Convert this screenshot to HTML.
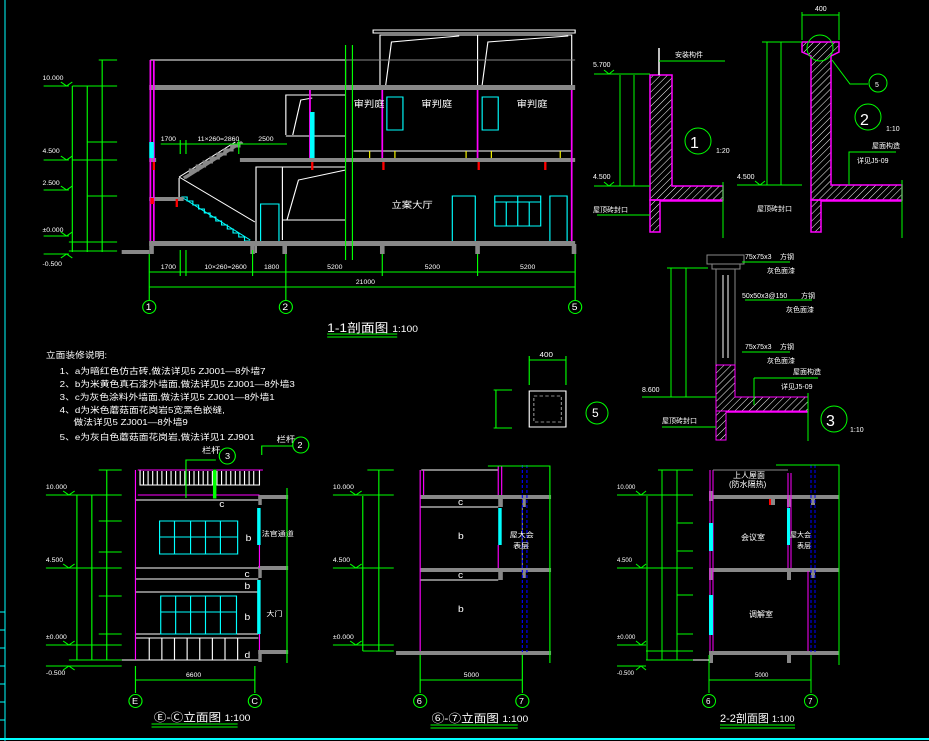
<!DOCTYPE html>
<html><head><meta charset="utf-8"><style>
html,body{margin:0;padding:0;background:#000;}
svg{display:block}
text{font-family:"Liberation Sans","Noto Sans CJK SC",sans-serif;fill:#fff}
</style></head><body>
<svg width="929" height="741" viewBox="0 0 929 741" xmlns="http://www.w3.org/2000/svg">
<defs>
<pattern id="h" width="5" height="5" patternUnits="userSpaceOnUse" patternTransform="rotate(45)"><line x1="0" y1="0" x2="0" y2="5" stroke="#fff" stroke-width="1"/></pattern>
</defs>
<rect width="929" height="741" fill="#000"/>
<line x1="5" y1="0" x2="5" y2="741" stroke="#0ff" stroke-width="1"/>
<g stroke="#0ff"><line x1="0" y1="612" x2="5" y2="612"/><line x1="0" y1="630" x2="5" y2="630"/><line x1="0" y1="648" x2="5" y2="648"/><line x1="0" y1="666" x2="5" y2="666"/><line x1="0" y1="684" x2="5" y2="684"/><line x1="0" y1="702" x2="5" y2="702"/><line x1="0" y1="720" x2="5" y2="720"/></g>
<line x1="0" y1="739" x2="929" y2="739" stroke="#0ff" stroke-width="2"/>

<g transform="scale(1.148,1)">
<!-- ===== 1-1 section ===== -->
<g stroke="#fff" fill="none" stroke-width="1">
<polyline points="131,60 301,60 301,88"/>
<rect x="325" y="30" width="176" height="3"/>
<polyline points="331,88 331,35 498,35 498,88"/>
<line x1="416" y1="35" x2="416" y2="88"/>
<polyline points="336,85 341,42 400,36"/><polyline points="420,85 425,42 495,36"/>
<line x1="301" y1="60" x2="501" y2="60" stroke="#888"/>
<polyline points="249,135 249,95 301,95"/><polyline points="255,135 262,100 272,98"/>
<line x1="249" y1="136" x2="301" y2="136"/>
<polyline points="223,253 223,167 301,167"/><line x1="246" y1="167" x2="246" y2="240"/>
<polyline points="250,220 260,180 301,170"/><line x1="246" y1="220" x2="301" y2="220"/>
<line x1="156" y1="177" x2="222" y2="222"/><polyline points="156,178 156,200"/>
<line x1="156" y1="177" x2="205" y2="142"/>
<line x1="308" y1="151" x2="498" y2="151"/>
<rect x="227" y="204" width="16" height="38" stroke="#0ff"/>
<rect x="337" y="97" width="14" height="33" stroke="#0ff"/>
<rect x="420" y="97" width="14" height="33" stroke="#0ff"/>
<rect x="394" y="196" width="20" height="47" stroke="#0ff"/>
<rect x="431" y="196" width="40" height="30" stroke="#0ff"/>
<line x1="431" y1="202" x2="471" y2="202" stroke="#0ff"/>
<line x1="441" y1="202" x2="441" y2="226" stroke="#0ff"/><line x1="451" y1="196" x2="451" y2="226" stroke="#0ff"/><line x1="461" y1="202" x2="461" y2="226" stroke="#0ff"/>
<rect x="479" y="196" width="15" height="47" stroke="#0ff"/>
<polyline points="158,197 218,240" stroke="#0ff"/>
</g>
<polyline points="158,197 163,197 163,201 168,201 168,205 173,205 173,209 178,209 178,213 183,213 183,217 188,217 188,221 193,221 193,225 198,225 198,229 203,229 203,233 208,233 208,237 213,237 213,241 218,241" stroke="#0ff" fill="none"/>
<polygon points="160,177 210,141 212,143 162,179" fill="#888"/>
<polyline points="160,178 166,174 166,170 172,170 172,166 178,166 178,162 184,162 184,158 190,158 190,154 196,154 196,150 202,150 202,146 208,146 208,142" stroke="#888" stroke-width="3" fill="none"/>
<g fill="#888">
<rect x="130" y="85" width="371" height="5"/>
<rect x="209" y="158" width="292" height="4"/>
<rect x="130" y="158" width="6" height="4"/>
<rect x="130" y="197" width="30" height="4"/>
<rect x="130" y="241" width="371" height="5"/>
<rect x="106" y="250" width="24" height="4"/>
<rect x="130" y="241" width="4" height="13"/>
<rect x="246" y="244" width="4" height="10"/><rect x="331" y="244" width="4" height="10"/><rect x="414" y="244" width="4" height="10"/><rect x="498" y="244" width="4" height="10"/><rect x="218" y="244" width="4" height="10"/>
</g>
<g stroke="#f0f" stroke-width="1.5"><line x1="131" y1="60" x2="131" y2="241"/><line x1="134" y1="60" x2="134" y2="241"/>
<line x1="270" y1="90" x2="270" y2="158"/><line x1="333" y1="90" x2="333" y2="158"/><line x1="416" y1="90" x2="416" y2="158"/><line x1="498" y1="90" x2="498" y2="241"/></g>
<rect x="130" y="142" width="4" height="16" fill="#0ff"/><rect x="270" y="112" width="4" height="46" fill="#0ff"/>
<g stroke="#ff0"><line x1="322" y1="151" x2="322" y2="158"/><line x1="344" y1="151" x2="344" y2="158"/><line x1="406" y1="151" x2="406" y2="158"/><line x1="428" y1="151" x2="428" y2="158"/><line x1="488" y1="151" x2="488" y2="158"/></g>
<g fill="#f00"><rect x="133" y="162" width="2" height="8"/><rect x="271" y="162" width="2" height="8"/><rect x="333" y="162" width="2" height="8"/><rect x="416" y="162" width="2" height="8"/><rect x="474" y="162" width="2" height="8"/><rect x="153" y="199" width="2" height="8"/><rect x="131" y="198" width="3" height="6"/></g>
<g fill="#fff" font-size="9"><text x="308" y="107">审判庭</text><text x="367" y="107">审判庭</text><text x="450" y="107">审判庭</text><text x="341" y="208">立案大厅</text></g>
<g stroke="#0f0" fill="none" stroke-width="1">
<line x1="301" y1="45" x2="301" y2="260"/><line x1="307" y1="45" x2="307" y2="260"/>
<line x1="38" y1="86" x2="60" y2="86"/><line x1="38" y1="160" x2="60" y2="160"/><line x1="38" y1="190" x2="60" y2="190"/><line x1="38" y1="236" x2="60" y2="236"/><line x1="38" y1="254" x2="60" y2="254"/>
<line x1="63" y1="86" x2="63" y2="252"/><line x1="76" y1="86" x2="76" y2="252"/><line x1="89" y1="60" x2="89" y2="252"/>
<line x1="63" y1="86" x2="102" y2="86"/><line x1="63" y1="160" x2="102" y2="160"/><line x1="76" y1="142" x2="102" y2="142"/><line x1="76" y1="196" x2="102" y2="196"/><line x1="60" y1="242" x2="102" y2="242"/><line x1="60" y1="251" x2="102" y2="251"/><line x1="86" y1="60" x2="102" y2="60"/>
<line x1="130" y1="272" x2="501" y2="272"/><line x1="130" y1="287" x2="501" y2="287"/>
<line x1="130" y1="254" x2="130" y2="300"/><line x1="249" y1="254" x2="249" y2="300"/><line x1="501" y1="254" x2="501" y2="300"/>
<line x1="157" y1="250" x2="157" y2="276"/><line x1="162" y1="250" x2="162" y2="276"/><line x1="220" y1="250" x2="220" y2="276"/><line x1="333" y1="254" x2="333" y2="276"/><line x1="416" y1="254" x2="416" y2="276"/>
<line x1="140" y1="144" x2="250" y2="144"/><line x1="157" y1="140" x2="157" y2="154"/><line x1="162" y1="140" x2="162" y2="154"/><line x1="208" y1="140" x2="208" y2="154"/>
<ellipse cx="130" cy="307" rx="5.7" ry="6.5"/><ellipse cx="249" cy="307" rx="5.7" ry="6.5"/><ellipse cx="501" cy="307" rx="5.7" ry="6.5"/>
<line x1="285" y1="334" x2="346" y2="334"/><line x1="285" y1="337" x2="346" y2="337"/>
</g>
<g stroke="#0f0" fill="none"><polyline points="53,82 58,86 63,82"/><polyline points="53,156 58,160 63,156"/><polyline points="53,186 58,190 63,186"/><polyline points="53,232 58,236 63,232"/><polyline points="53,258 58,254 63,258"/></g>
<g fill="#fff" font-size="6"><text x="37" y="80">10.000</text><text x="37" y="153">4.500</text><text x="37" y="185">2.500</text><text x="37" y="232">±0.000</text><text x="37" y="266">-0.500</text>
<text x="140" y="141">1700</text><text x="172" y="141">11×260=2860</text><text x="225" y="141">2500</text>
<text x="140" y="269">1700</text><text x="178" y="269">10×260=2600</text><text x="230" y="269">1800</text><text x="285" y="269">5200</text><text x="370" y="269">5200</text><text x="453" y="269">5200</text><text x="310" y="284">21000</text></g>
<g fill="#fff" font-size="9"><text x="127" y="310">1</text><text x="246" y="310">2</text><text x="498" y="310">5</text></g>
<text x="285" y="332" font-size="12">1-1剖面图 <tspan font-size="9">1:100</tspan></text>

<g fill="#fff" font-size="8.5"><text x="40" y="358">立面装修说明:</text>
<text x="52" y="374">1、a为暗红色仿古砖,做法详见5 ZJ001—8外墙7</text>
<text x="52" y="387">2、b为米黄色真石漆外墙面,做法详见5 ZJ001—8外墙3</text>
<text x="52" y="400">3、c为灰色涂料外墙面,做法详见5 ZJ001—8外墙1</text>
<text x="52" y="413">4、d为米色蘑菇面花岗岩5宽黑色嵌缝,</text>
<text x="64" y="425">做法详见5 ZJ001—8外墙9</text>
<text x="52" y="440">5、e为灰白色蘑菇面花岗岩,做法详见1 ZJ901</text></g>

<rect x="461" y="391" width="32" height="36" fill="none" stroke="#fff"/>
<rect x="465" y="396" width="24" height="26" fill="none" stroke="#888" stroke-dasharray="3,2"/>
<g stroke="#0f0" fill="none"><line x1="461" y1="360" x2="493" y2="360"/><line x1="461" y1="356" x2="461" y2="385"/><line x1="493" y1="356" x2="493" y2="385"/><line x1="432" y1="390" x2="432" y2="428"/><line x1="430" y1="390" x2="446" y2="390"/><line x1="430" y1="428" x2="446" y2="428"/></g>
<text x="470" y="357" font-size="7">400</text>

<!-- ===== E-C elevation ===== -->
<g fill="#888"><rect x="225" y="495" width="26" height="4"/><rect x="225" y="566" width="26" height="4"/><rect x="225" y="650" width="26" height="4"/><rect x="225" y="495" width="3" height="10"/><rect x="225" y="566" width="3" height="12"/><rect x="225" y="650" width="3" height="12"/></g>
<g stroke="#fff" fill="none"><rect x="122" y="470" width="104" height="15"/>
<line x1="118" y1="500" x2="225" y2="500"/><line x1="118" y1="568" x2="225" y2="568"/><line x1="118" y1="579" x2="225" y2="579"/><line x1="118" y1="592" x2="225" y2="592"/><line x1="118" y1="634" x2="225" y2="634"/><line x1="118" y1="638" x2="225" y2="638"/><line x1="106" y1="660" x2="225" y2="660"/></g>
<g stroke="#fff">
<line x1="125" y1="471" x2="125" y2="485"/><line x1="129" y1="471" x2="129" y2="485"/><line x1="133" y1="471" x2="133" y2="485"/><line x1="137" y1="471" x2="137" y2="485"/><line x1="141" y1="471" x2="141" y2="485"/><line x1="145" y1="471" x2="145" y2="485"/><line x1="149" y1="471" x2="149" y2="485"/><line x1="153" y1="471" x2="153" y2="485"/><line x1="157" y1="471" x2="157" y2="485"/><line x1="161" y1="471" x2="161" y2="485"/><line x1="165" y1="471" x2="165" y2="485"/><line x1="169" y1="471" x2="169" y2="485"/><line x1="173" y1="471" x2="173" y2="485"/><line x1="177" y1="471" x2="177" y2="485"/><line x1="181" y1="471" x2="181" y2="485"/><line x1="185" y1="471" x2="185" y2="485"/><line x1="189" y1="471" x2="189" y2="485"/><line x1="193" y1="471" x2="193" y2="485"/><line x1="197" y1="471" x2="197" y2="485"/><line x1="201" y1="471" x2="201" y2="485"/><line x1="205" y1="471" x2="205" y2="485"/><line x1="209" y1="471" x2="209" y2="485"/><line x1="213" y1="471" x2="213" y2="485"/><line x1="217" y1="471" x2="217" y2="485"/><line x1="221" y1="471" x2="221" y2="485"/>
<line x1="130" y1="638" x2="130" y2="660"/><line x1="141" y1="638" x2="141" y2="660"/><line x1="152" y1="638" x2="152" y2="660"/><line x1="163" y1="638" x2="163" y2="660"/><line x1="174" y1="638" x2="174" y2="660"/><line x1="185" y1="638" x2="185" y2="660"/><line x1="196" y1="638" x2="196" y2="660"/><line x1="207" y1="638" x2="207" y2="660"/></g>
<g stroke="#f0f" fill="none"><line x1="118" y1="470" x2="118" y2="660"/><line x1="120" y1="470" x2="229" y2="470"/><line x1="120" y1="495" x2="226" y2="495"/><line x1="226" y1="545" x2="226" y2="568"/><line x1="226" y1="634" x2="226" y2="650"/></g>
<rect x="224" y="508" width="3" height="37" fill="#0ff"/><rect x="224" y="580" width="3" height="54" fill="#0ff"/>
<g stroke="#0ff" fill="none"><rect x="139" y="521" width="68" height="33"/><line x1="152" y1="521" x2="152" y2="554"/><line x1="166" y1="521" x2="166" y2="554"/><line x1="179" y1="521" x2="179" y2="554"/><line x1="192" y1="521" x2="192" y2="554"/><line x1="139" y1="537" x2="207" y2="537"/>
<rect x="140" y="596" width="66" height="38"/><line x1="153" y1="596" x2="153" y2="634"/><line x1="166" y1="596" x2="166" y2="634"/><line x1="179" y1="596" x2="179" y2="634"/><line x1="192" y1="596" x2="192" y2="634"/><line x1="140" y1="612" x2="206" y2="612"/></g>
<g fill="#fff" font-size="9"><text x="191" y="507">c</text><text x="214" y="541">b</text><text x="213" y="577">c</text><text x="213" y="589">b</text><text x="213" y="620">b</text><text x="213" y="658">d</text><text x="228" y="536" font-size="7">法官通道</text><text x="232" y="616" font-size="7">大门</text></g>
<g stroke="#0f0" fill="none">
<polyline points="162,498 162,460 188,460"/><ellipse cx="198" cy="456" rx="7" ry="8"/><polyline points="228,455 228,446 255,446"/><ellipse cx="262" cy="445" rx="7" ry="8"/>
<rect x="186" y="470" width="2" height="28" fill="#0f0"/>
<line x1="40" y1="495" x2="106" y2="495"/><line x1="40" y1="568" x2="106" y2="568"/><line x1="40" y1="645" x2="106" y2="645"/><line x1="40" y1="666" x2="106" y2="666"/>
<line x1="67" y1="495" x2="67" y2="660"/><line x1="80" y1="495" x2="80" y2="660"/><line x1="93" y1="470" x2="93" y2="660"/>
<line x1="86" y1="470" x2="106" y2="470"/><line x1="86" y1="521" x2="106" y2="521"/><line x1="86" y1="552" x2="106" y2="552"/><line x1="86" y1="596" x2="106" y2="596"/><line x1="86" y1="634" x2="106" y2="634"/><line x1="60" y1="660" x2="106" y2="660"/>
<line x1="250" y1="488" x2="250" y2="663"/>
<line x1="118" y1="666" x2="118" y2="693"/><line x1="222" y1="666" x2="222" y2="693"/><line x1="118" y1="680" x2="222" y2="680"/>
<ellipse cx="118" cy="701" rx="5.7" ry="6.5"/><ellipse cx="222" cy="701" rx="5.7" ry="6.5"/>
<line x1="132" y1="724" x2="207" y2="724"/><line x1="132" y1="727" x2="207" y2="727"/>
<polyline points="55,491 60,495 65,491"/><polyline points="55,564 60,568 65,564"/><polyline points="55,641 60,645 65,641"/><polyline points="55,670 60,666 65,670"/>
</g>
<g fill="#fff" font-size="6"><text x="40" y="489">10.000</text><text x="40" y="562">4.500</text><text x="40" y="639">±0.000</text><text x="40" y="675">-0.500</text><text x="162" y="677">6600</text></g>
<g fill="#fff" font-size="8"><text x="176" y="453">栏杆</text><text x="241" y="442">栏杆</text><text x="196" y="459">3</text><text x="259" y="448">2</text><text x="115" y="704">E</text><text x="219" y="704">C</text></g>
<text x="134" y="721" font-size="11">Ⓔ-Ⓒ立面图 <tspan font-size="9">1:100</tspan></text>

<!-- ===== 6-7 elevation ===== -->
<g fill="#888"><rect x="366" y="495" width="114" height="4"/><rect x="366" y="568" width="114" height="4"/><rect x="345" y="651" width="135" height="4"/><rect x="434" y="495" width="4" height="12"/><rect x="434" y="568" width="4" height="12"/><rect x="455" y="495" width="3" height="12"/><rect x="455" y="568" width="3" height="10"/></g>
<g stroke="#fff" fill="none"><line x1="367" y1="470" x2="434" y2="470"/><line x1="366" y1="507" x2="434" y2="507"/><line x1="366" y1="580" x2="434" y2="580"/><line x1="455" y1="507" x2="455" y2="568" stroke="#888"/></g>
<g stroke="#f0f"><line x1="366" y1="470" x2="366" y2="651"/><line x1="369" y1="470" x2="369" y2="495"/><line x1="434" y1="466" x2="434" y2="495"/><line x1="437" y1="466" x2="437" y2="495"/><line x1="434" y1="545" x2="434" y2="568"/></g>
<rect x="434" y="508" width="3" height="37" fill="#0ff"/>
<g stroke="#00f" stroke-dasharray="3,2"><line x1="455" y1="465" x2="455" y2="652"/><line x1="459" y1="465" x2="459" y2="652"/></g>
<g fill="#fff" font-size="9"><text x="399" y="505">c</text><text x="399" y="539">b</text><text x="399" y="578">c</text><text x="399" y="612">b</text><text x="444" y="537" font-size="7">屋大会</text><text x="447" y="548" font-size="7">表层</text></g>
<g stroke="#0f0" fill="none"><line x1="290" y1="495" x2="343" y2="495"/><line x1="290" y1="568" x2="343" y2="568"/><line x1="290" y1="645" x2="343" y2="645"/><line x1="316" y1="496" x2="316" y2="651"/><line x1="330" y1="470" x2="330" y2="651"/><line x1="320" y1="470" x2="343" y2="470"/><line x1="316" y1="651" x2="343" y2="651"/>
<polyline points="425,466 479,466 479,663"/><line x1="366" y1="655" x2="366" y2="693"/><line x1="455" y1="655" x2="455" y2="693"/><line x1="366" y1="680" x2="455" y2="680"/>
<ellipse cx="366" cy="701" rx="5.7" ry="6.5"/><ellipse cx="455" cy="701" rx="5.7" ry="6.5"/><line x1="375" y1="725" x2="451" y2="725"/><line x1="375" y1="728" x2="451" y2="728"/>
<polyline points="305,491 310,495 315,491"/><polyline points="305,564 310,568 315,564"/><polyline points="305,641 310,645 315,641"/></g>
<g fill="#fff" font-size="6"><text x="290" y="489">10.000</text><text x="290" y="562">4.500</text><text x="290" y="639">±0.000</text><text x="404" y="677">5000</text></g>
<g fill="#fff" font-size="8"><text x="363" y="704">6</text><text x="452" y="704">7</text></g>
<text x="376" y="722" font-size="11">⑥-⑦立面图 <tspan font-size="9">1:100</tspan></text>
</g>

<circle cx="597" cy="413" r="11" stroke="#0f0" fill="none"/>
<text x="592" y="417" font-size="12">5</text>

<!-- ===== 2-2 section ===== -->
<g fill="#888"><rect x="709" y="495" width="130" height="4"/><rect x="709" y="568" width="130" height="4"/><rect x="709" y="651" width="130" height="4"/><rect x="709" y="491" width="4" height="10"/><rect x="709" y="568" width="4" height="12"/><rect x="709" y="651" width="4" height="12"/><rect x="787" y="495" width="4" height="12"/><rect x="787" y="568" width="4" height="12"/><rect x="787" y="651" width="4" height="12"/><rect x="811" y="495" width="4" height="10"/><rect x="811" y="568" width="4" height="10"/><rect x="771" y="495" width="4" height="10"/></g>
<g stroke="#f0f"><line x1="710" y1="470" x2="710" y2="651"/><line x1="713" y1="470" x2="713" y2="651"/><line x1="788" y1="473" x2="788" y2="568"/><line x1="791" y1="473" x2="791" y2="568"/><line x1="808" y1="571" x2="808" y2="651"/></g>
<rect x="709" y="523" width="4" height="28" fill="#0ff"/><rect x="709" y="595" width="4" height="40" fill="#0ff"/><rect x="787" y="508" width="3" height="37" fill="#0ff"/>
<g stroke="#00f" stroke-dasharray="3,2"><line x1="811" y1="465" x2="811" y2="652"/><line x1="815" y1="465" x2="815" y2="652"/></g>
<line x1="713" y1="470" x2="788" y2="470" stroke="#888"/>
<rect x="769" y="499" width="2" height="6" fill="#f00"/>
<g fill="#fff" font-size="8"><text x="733" y="478">上人屋面</text><text x="729" y="487">(防水隔热)</text><text x="741" y="540">会议室</text><text x="749" y="617">调解室</text><text x="790" y="537" font-size="7">屋大会</text><text x="797" y="548" font-size="7">表层</text><text x="706" y="704">6</text><text x="808" y="704">7</text></g>
<g stroke="#0f0" fill="none"><line x1="617" y1="495" x2="646" y2="495"/><line x1="617" y1="568" x2="646" y2="568"/><line x1="617" y1="645" x2="646" y2="645"/><line x1="617" y1="666" x2="646" y2="666"/>
<line x1="647" y1="496" x2="647" y2="660"/><line x1="662" y1="470" x2="662" y2="660"/><line x1="677" y1="470" x2="677" y2="660"/><line x1="658" y1="470" x2="693" y2="470"/><line x1="646" y1="495" x2="693" y2="495"/><line x1="677" y1="523" x2="693" y2="523"/><line x1="677" y1="551" x2="693" y2="551"/><line x1="646" y1="568" x2="693" y2="568"/><line x1="677" y1="595" x2="693" y2="595"/><line x1="677" y1="634" x2="693" y2="634"/><line x1="646" y1="651" x2="693" y2="651"/><line x1="646" y1="660" x2="693" y2="660"/>
<polyline points="776,465 839,465 839,665"/>
<line x1="709" y1="655" x2="709" y2="693"/><line x1="811" y1="655" x2="811" y2="693"/><line x1="709" y1="680" x2="811" y2="680"/>
<circle cx="709" cy="701" r="6.5"/><circle cx="811" cy="701" r="6.5"/><line x1="720" y1="725" x2="795" y2="725"/><line x1="720" y1="728" x2="795" y2="728"/>
<polyline points="636,491 641,495 646,491"/><polyline points="636,564 641,568 646,564"/><polyline points="636,641 641,645 646,641"/><polyline points="636,670 641,666 646,670"/></g>
<line x1="693" y1="660" x2="709" y2="660" stroke="#fff"/>
<g fill="#fff" font-size="6"><text x="617" y="489">10.000</text><text x="617" y="562">4.500</text><text x="617" y="639">±0.000</text><text x="617" y="675">-0.500</text><text x="755" y="677">5000</text></g>
<text x="720" y="722" font-size="11">2-2剖面图 <tspan font-size="9">1:100</tspan></text>

<!-- ===== detail 1 ===== -->
<path d="M650,75 L672,75 L672,186 L723,186 L723,200 L650,200 Z" fill="url(#h)" stroke="#f0f" stroke-width="1.5"/>
<path d="M650,200 L660,200 L660,232 L650,232 Z" fill="url(#h)" stroke="#f0f" stroke-width="1.5"/>
<polyline points="660,201 723,201 M660,232 L723,232" stroke="#f0f" stroke-width="1.5" fill="none"/>
<line x1="659" y1="48" x2="659" y2="75" stroke="#fff" stroke-width="1.5"/>
<g stroke="#0f0" fill="none"><line x1="659" y1="61" x2="725" y2="61"/><line x1="594" y1="74" x2="650" y2="74"/><line x1="594" y1="186" x2="650" y2="186"/><line x1="620" y1="75" x2="620" y2="186"/><line x1="634" y1="75" x2="634" y2="186"/><line x1="597" y1="215" x2="650" y2="215"/><line x1="723" y1="182" x2="723" y2="238"/><circle cx="698" cy="141" r="13"/>
<polyline points="604,70 609,74 614,70"/><polyline points="604,182 609,186 614,182"/></g>
<g fill="#fff" font-size="7"><text x="593" y="67">5.700</text><text x="593" y="179">4.500</text><text x="675" y="57">安装构件</text><text x="593" y="212">屋顶砖封口</text><text x="716" y="153">1:20</text></g>
<text x="690" y="148" font-size="16" fill="#fff">1</text>

<!-- ===== detail 2 ===== -->
<path d="M802,42 L839,42 L839,52 L831,56 L831,185 L902,185 L902,200 L811,200 L811,56 L802,52 Z" fill="url(#h)" stroke="#f0f" stroke-width="1.5"/>
<path d="M811,200 L821,200 L821,232 L811,232 Z" fill="url(#h)" stroke="#f0f" stroke-width="1.5"/>
<polyline points="821,201 902,201 M821,232 L902,232" stroke="#f0f" stroke-width="1.5" fill="none"/>
<g stroke="#0f0" fill="none"><line x1="802" y1="15" x2="839" y2="15"/><line x1="802" y1="12" x2="802" y2="40"/><line x1="839" y1="12" x2="839" y2="40"/><line x1="762" y1="42" x2="802" y2="42"/><line x1="767" y1="42" x2="767" y2="185"/><line x1="781" y1="42" x2="781" y2="185"/><line x1="737" y1="185" x2="802" y2="185"/>
<circle cx="820" cy="48" r="13"/><polyline points="832,60 850,84 868,84"/><circle cx="878" cy="83" r="9"/><circle cx="868" cy="117" r="13"/><polyline points="849,185 849,152 896,152"/><line x1="902" y1="180" x2="902" y2="238"/>
<polyline points="755,181 760,185 765,181"/></g>
<g fill="#fff" font-size="7"><text x="737" y="179">4.500</text><text x="872" y="148">屋面构造</text><text x="857" y="163">详见J5-09</text><text x="757" y="211">屋顶砖封口</text><text x="886" y="131">1:10</text><text x="815" y="11">400</text><text x="875" y="87">5</text></g>
<text x="860" y="125" font-size="16" fill="#fff">2</text>

<!-- ===== detail 3 ===== -->
<rect x="707" y="255" width="37" height="9" fill="none" stroke="#888"/><rect x="712" y="264" width="28" height="5" fill="none" stroke="#888"/>
<line x1="716" y1="269" x2="716" y2="365" stroke="#888"/><line x1="735" y1="269" x2="735" y2="365" stroke="#888"/>
<line x1="723" y1="275" x2="723" y2="358" stroke="#fff"/><line x1="728" y1="275" x2="728" y2="358" stroke="#fff"/>
<path d="M716,365 L735,365 L735,397 L808,397 L808,411 L716,411 Z" fill="url(#h)" stroke="#f0f" stroke-width="1"/>
<path d="M716,411 L726,411 L726,440 L716,440 Z" fill="url(#h)" stroke="#f0f" stroke-width="1"/>
<line x1="726" y1="412" x2="808" y2="412" stroke="#f0f" stroke-width="1.5"/>
<g stroke="#0f0" fill="none"><line x1="667" y1="268" x2="708" y2="268"/><line x1="671" y1="268" x2="671" y2="397"/><line x1="686" y1="268" x2="686" y2="397"/><line x1="642" y1="397" x2="716" y2="397"/><line x1="742" y1="262" x2="790" y2="262"/><line x1="745" y1="300" x2="812" y2="300"/><line x1="742" y1="352" x2="790" y2="352"/><line x1="754" y1="378" x2="818" y2="378"/><line x1="754" y1="378" x2="754" y2="405"/><line x1="662" y1="427" x2="716" y2="427"/><line x1="808" y1="393" x2="808" y2="441"/><circle cx="834" cy="419" r="13"/></g>
<g fill="#fff" font-size="7"><text x="745" y="259">75x75x3</text><text x="780" y="259">方钢</text><text x="767" y="273">灰色面漆</text><text x="742" y="298">50x50x3@150</text><text x="801" y="298">方钢</text><text x="786" y="312">灰色面漆</text><text x="745" y="349">75x75x3</text><text x="780" y="349">方钢</text><text x="767" y="363">灰色面漆</text><text x="793" y="374">屋面构造</text><text x="781" y="389">详见J5-09</text><text x="642" y="392">8.600</text><text x="662" y="423">屋顶砖封口</text><text x="850" y="432">1:10</text></g>
<text x="826" y="426" font-size="16" fill="#fff">3</text>
</svg>
</body></html>
